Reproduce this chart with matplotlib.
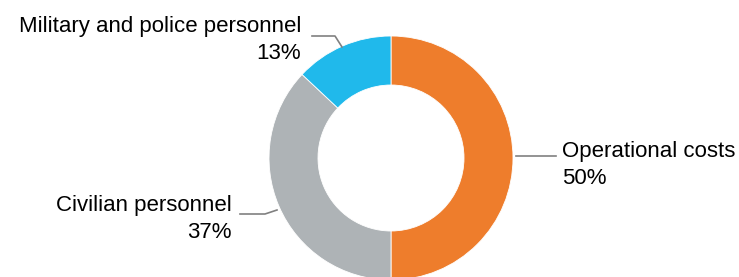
import matplotlib.pyplot as plt

labels = ['Operational costs', 'Civilian personnel', 'Military and police personnel']
shares = [50, 37, 13]
colors = ['#EE7D2C', '#AEB3B6', '#20B9EB']

plt.rcParams['font.family'] = ['Liberation Sans', 'DejaVu Sans']

fig = plt.figure(figsize=(7.39, 2.77), dpi=100)
ax = fig.add_axes([0, 0, 1, 1])

# donut in pixel-ish coords (y measured from bottom)
cx, cy, r = 391, 277 - 158, 122
ax.pie(shares, colors=colors, startangle=90, counterclock=False,
       center=(cx, cy), radius=r, frame=True,
       wedgeprops=dict(width=r - 73, edgecolor='white', linewidth=0.6))
ax.set_xlim(0, 739)
ax.set_ylim(0, 277)
ax.set_aspect('equal')
ax.axis('off')

lc = '#808080'
fs = 16
ls = 1.35
# Operational costs
ax.plot([516, 556], [277 - 156, 277 - 156], color=lc, lw=1.2)
ax.text(562, 277 - 165, f'{labels[0]}\n{shares[0]}%', fontsize=fs,
        ha='left', va='center', linespacing=ls)
# Civilian personnel
ax.plot([240, 265, 277], [277 - 214, 277 - 214, 277 - 210], color=lc, lw=1.2)
ax.text(232, 277 - 219, f'{labels[1]}\n{shares[1]}%', fontsize=fs,
        ha='right', va='center', linespacing=ls, multialignment='right')
# Military and police personnel
ax.plot([312, 335, 342], [277 - 36, 277 - 36, 277 - 47], color=lc, lw=1.2)
ax.text(301, 277 - 40, f'{labels[2]}\n{shares[2]}%', fontsize=fs,
        ha='right', va='center', linespacing=ls, multialignment='right')

fig.savefig('out.png', dpi=100)
